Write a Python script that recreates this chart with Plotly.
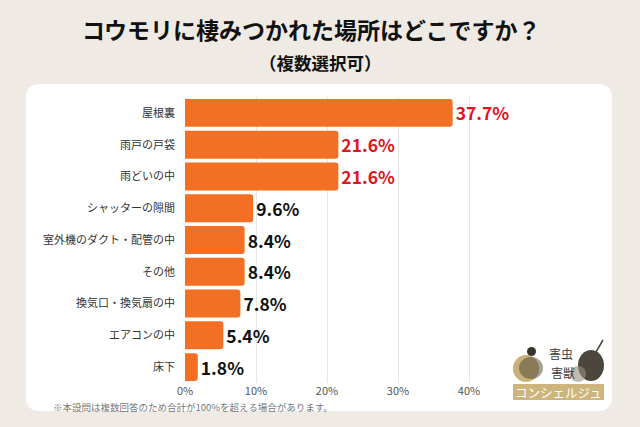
import plotly.graph_objects as go

categories = ["屋根裏", "雨戸の戸袋", "雨どいの中", "シャッターの隙間", "室外機のダクト・配管の中",
              "その他", "換気口・換気扇の中", "エアコンの中", "床下"]
values = [37.7, 21.6, 21.6, 9.6, 8.4, 8.4, 7.8, 5.4, 1.8]
label_colors = ["#e0141e"] * 3 + ["#111111"] * 6
tick_vals = [0, 10, 20, 30, 40]
tick_text = ["0%", "10%", "20%", "30%", "40%"]

W, H = 640, 427
L, R_PX, T, B_PX = 185, 540, 97, 383
FONT = "Noto Sans CJK JP"


def px(x):
    return (x - L) / (R_PX - L)


def py(y):
    return (B_PX - y) / (B_PX - T)


def rrect(x0, y0, x1, y1, r):
    pts = [
        f"M {px(x0 + r)} {py(y0)}",
        f"L {px(x1 - r)} {py(y0)}",
        f"Q {px(x1)} {py(y0)} {px(x1)} {py(y0 + r)}",
        f"L {px(x1)} {py(y1 - r)}",
        f"Q {px(x1)} {py(y1)} {px(x1 - r)} {py(y1)}",
        f"L {px(x0 + r)} {py(y1)}",
        f"Q {px(x0)} {py(y1)} {px(x0)} {py(y1 - r)}",
        f"L {px(x0)} {py(y0 + r)}",
        f"Q {px(x0)} {py(y0)} {px(x0 + r)} {py(y0)}",
        "Z",
    ]
    return " ".join(pts)


fig = go.Figure(go.Bar(
    x=values, y=categories, orientation="h",
    marker=dict(color="#f26f23", line=dict(width=0)),
    texttemplate="<b>%{x}%</b>", textposition="outside",
    textfont=dict(family=FONT, size=17.5, color=label_colors),
    cliponaxis=False, hoverinfo="skip",
))

shapes = [
    dict(type="path", path=rrect(26, 84, 612, 411, 14), xref="paper", yref="paper",
         fillcolor="white", line=dict(width=0), layer="below"),
    # logo elements
    dict(type="path", path=rrect(513, 384, 604, 400, 1), xref="paper", yref="paper",
         fillcolor="#cdb57d", line=dict(width=0), layer="above"),
    dict(type="circle", xref="paper", yref="paper", x0=px(513), x1=px(539), y0=py(355), y1=py(382),
         fillcolor="#c9b27a", line=dict(width=0)),
    dict(type="circle", xref="paper", yref="paper", x0=px(519), x1=px(543), y0=py(357), y1=py(379),
         fillcolor="#4a4436", line=dict(width=0), opacity=0.5),
    dict(type="circle", xref="paper", yref="paper", x0=px(527), x1=px(536), y0=py(347), y1=py(356),
         fillcolor="#3a352c", line=dict(width=0)),
    dict(type="circle", xref="paper", yref="paper", x0=px(578), x1=px(604), y0=py(350), y1=py(381),
         fillcolor="#4d463c", line=dict(width=0)),
    dict(type="circle", xref="paper", yref="paper", x0=px(570), x1=px(586), y0=py(366), y1=py(382),
         fillcolor="#9a8f7c", line=dict(width=0), opacity=0.6),
    dict(type="line", xref="paper", yref="paper", x0=px(596), x1=px(603), y0=py(352), y1=py(340),
         line=dict(color="#4d463c", width=1.5)),
]

annotations = [
    dict(text="<b>コウモリに棲みつかれた場所はどこですか？</b>", x=px(311), y=py(29),
         xref="paper", yref="paper", showarrow=False, xanchor="center", yanchor="middle",
         font=dict(family=FONT, size=23, color="#111111")),
    dict(text="<b>（複数選択可）</b>", x=px(320), y=py(62),
         xref="paper", yref="paper", showarrow=False, xanchor="center", yanchor="middle",
         font=dict(family=FONT, size=17.5, color="#111111")),
    dict(text="※本設問は複数回答のため合計が100%を超える場合があります。", x=px(51), y=py(407),
         xref="paper", yref="paper", showarrow=False, xanchor="left", yanchor="middle",
         font=dict(family=FONT, size=9.5, color="#777777")),
    dict(text="害虫", x=px(561), y=py(353), xref="paper", yref="paper", showarrow=False,
         xanchor="center", yanchor="middle", font=dict(family=FONT, size=12, color="#3a3a3a")),
    dict(text="害獣", x=px(563), y=py(372), xref="paper", yref="paper", showarrow=False,
         xanchor="center", yanchor="middle", font=dict(family=FONT, size=12, color="#3a3a3a")),
    dict(text="コンシェルジュ", x=px(558), y=py(392), xref="paper", yref="paper", showarrow=False,
         xanchor="center", yanchor="middle", font=dict(family=FONT, size=12.5, color="white")),
]

fig.update_layout(
    width=W, height=H,
    margin=dict(l=L, r=W - R_PX, t=T, b=H - B_PX, pad=0),
    paper_bgcolor="#efebe4", plot_bgcolor="rgba(0,0,0,0)",
    bargap=0.12, barcornerradius=3,
    showlegend=False,
    shapes=shapes, annotations=annotations,
    font=dict(family=FONT),
    xaxis=dict(range=[0, 50], tickvals=tick_vals, ticktext=tick_text,
               showgrid=True, gridcolor="#e6e6e6", gridwidth=1, zeroline=False,
               showline=False, ticks="", ticklen=0,
               tickfont=dict(family=FONT, size=11, color="#555555"), fixedrange=True),
    yaxis=dict(autorange="reversed", showgrid=False, zeroline=False, showline=False,
               ticks="", ticklabelstandoff=9,
               tickfont=dict(family=FONT, size=11, color="#333333"), fixedrange=True),
)

fig.write_html("out.html")
